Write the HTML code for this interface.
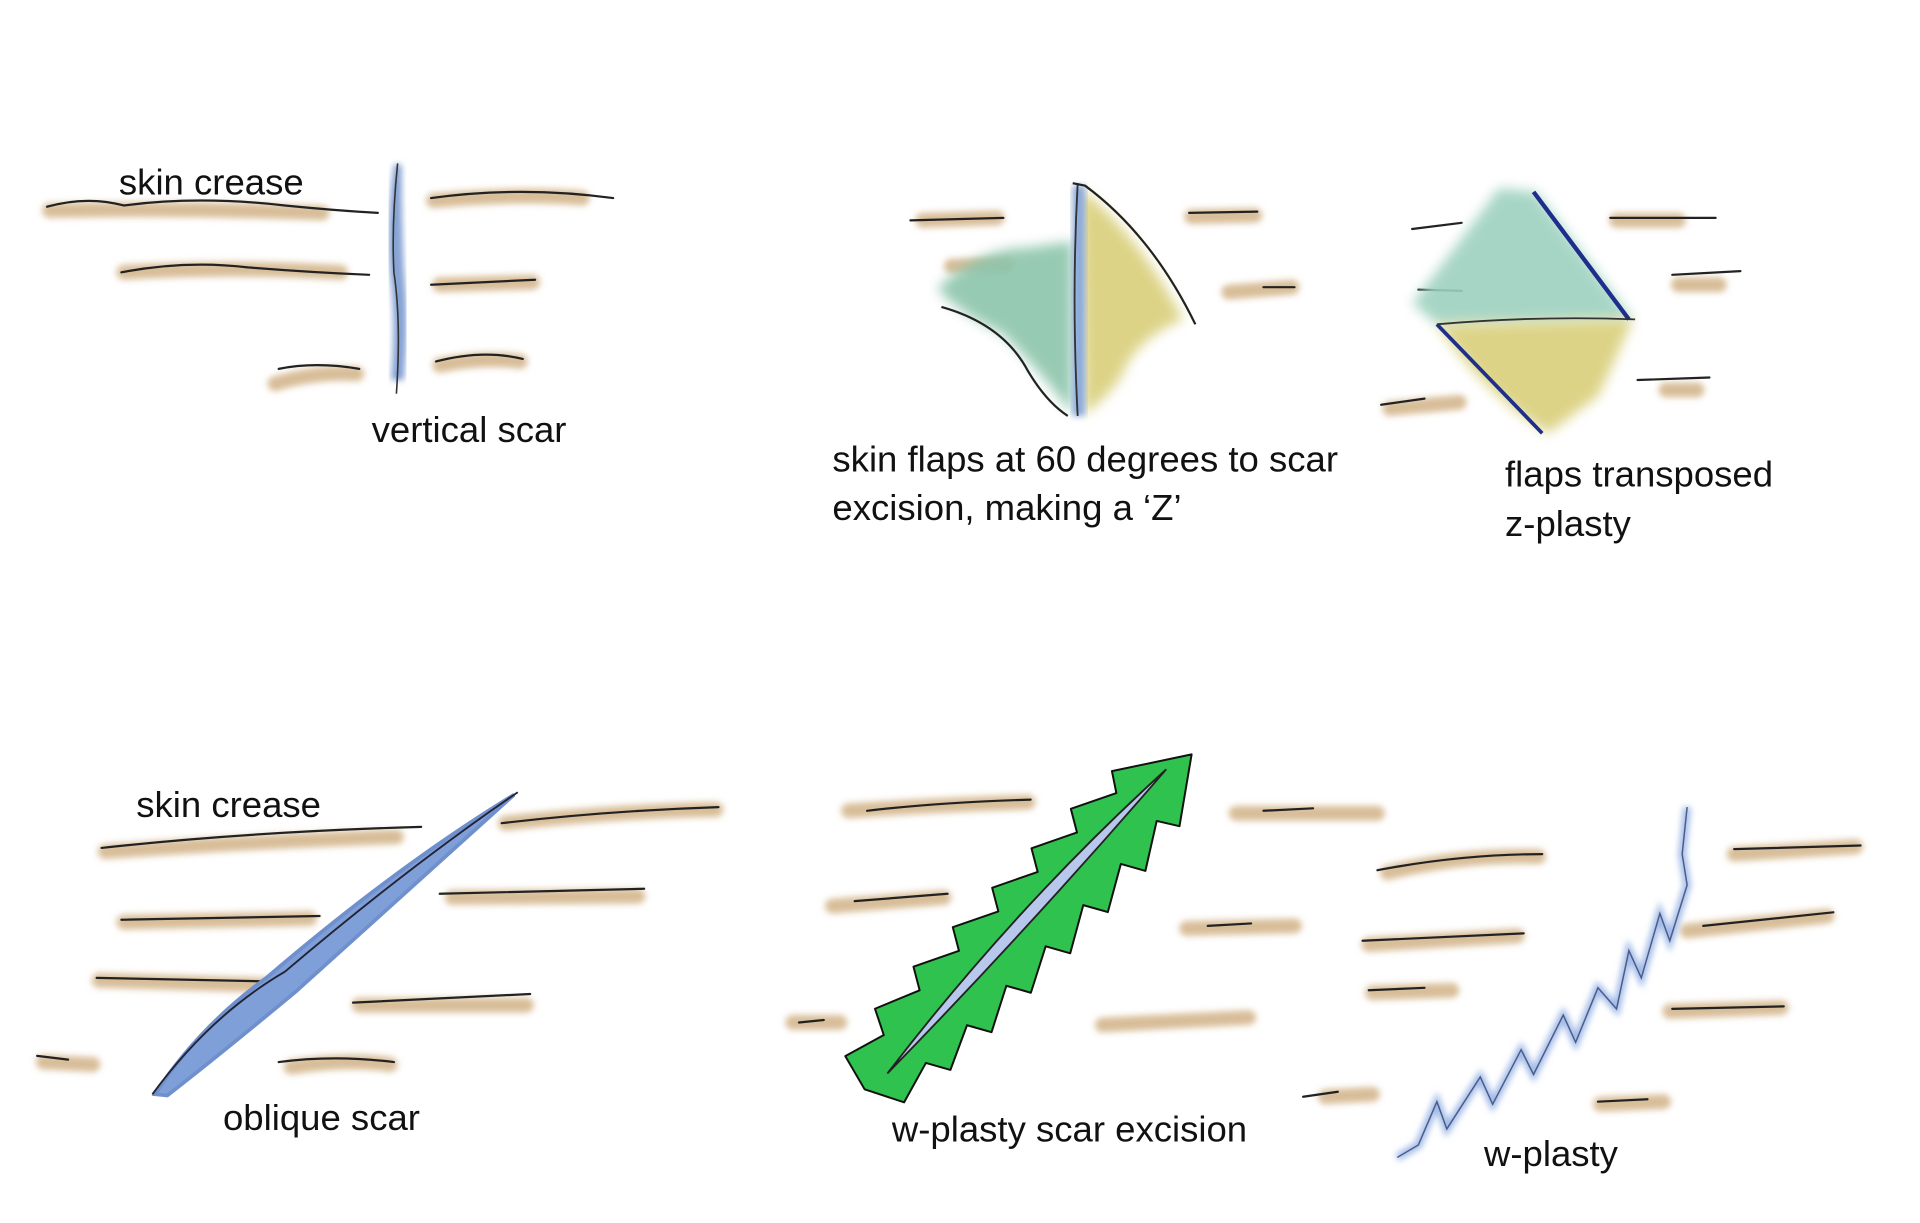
<!DOCTYPE html>
<html><head><meta charset="utf-8"><style>
html,body{margin:0;padding:0;background:#fff;}
svg{display:block;}
text{font-family:"Liberation Sans",sans-serif;font-size:29.5px;fill:#111;}
</style></head><body>
<svg width="1920" height="1223" viewBox="0 0 1550 988" preserveAspectRatio="none" xmlns="http://www.w3.org/2000/svg">
<defs>
<filter id="b" x="-20%" y="-50%" width="140%" height="200%"><feGaussianBlur stdDeviation="2.5"/></filter>
<filter id="b2" x="-20%" y="-20%" width="140%" height="140%"><feGaussianBlur stdDeviation="5"/></filter>
</defs>
<rect width="1550" height="988" fill="#fff"/>
<g stroke="#d8bd98" stroke-width="12" stroke-linecap="round" fill="none" filter="url(#b)">
<path d="M40 170 Q150 168 260 172"/><path d="M350 162 Q420 156 470 160"/><path d="M100 220 Q190 215 275 220"/>
<path d="M355 230 L430 228"/><path d="M222 310 Q255 300 288 302"/><path d="M355 295 Q390 288 420 292"/>
<path d="M745 178 L805 176"/><path d="M962 175 L1013 174"/><path d="M992 236 L1043 232"/><path d="M768 215 L812 214"/>
<path d="M1305 178 L1355 178"/><path d="M1355 230 L1388 230"/><path d="M1345 315 L1370 315"/><path d="M1122 330 L1178 325"/>
<path d="M85 688 Q200 680 320 676"/><path d="M408 665 Q500 655 578 654"/><path d="M100 745 L250 742"/><path d="M365 725 L515 724"/>
<path d="M80 792 L220 796"/><path d="M290 812 L425 812"/><path d="M35 858 L75 860"/><path d="M235 862 Q280 855 315 860"/>
<path d="M685 655 Q760 650 830 648"/><path d="M998 657 L1112 657"/><path d="M672 732 L762 725"/><path d="M958 750 L1045 748"/>
<path d="M640 826 L678 826"/><path d="M890 828 L1008 822"/><path d="M1070 886 L1108 884"/>
<path d="M1120 705 Q1180 690 1242 692"/><path d="M1400 690 L1498 684"/><path d="M1105 763 L1225 756"/><path d="M1362 752 L1475 740"/>
<path d="M1108 802 L1172 800"/><path d="M1348 817 L1438 814"/><path d="M1292 892 L1343 890"/>
</g>
<g stroke="#222" stroke-width="1.8" fill="none" stroke-linecap="round">
<path d="M38 167 Q70 158 100 166 Q160 158 230 166 Q270 170 305 172"/><path d="M348 160 Q420 150 495 160"/>
<path d="M98 220 Q150 210 200 216 Q250 220 298 222"/><path d="M348 230 L432 226"/><path d="M225 298 Q255 292 290 298"/><path d="M352 292 Q390 282 422 290"/>
<path d="M735 178 L810 176"/><path d="M960 172 L1015 171"/><path d="M1020 232 L1045 232"/>
<path d="M1140 185 L1180 180"/><path d="M1300 176 L1385 176"/><path d="M1350 222 L1405 219"/><path d="M1145 234 L1180 235"/><path d="M1322 307 L1380 305"/><path d="M1115 327 L1150 322"/>
<path d="M82 685 Q200 672 340 668"/><path d="M405 665 Q490 655 580 652"/><path d="M98 743 L258 740"/><path d="M355 722 L520 718"/>
<path d="M78 790 L225 793"/><path d="M285 810 L428 803"/><path d="M30 853 L55 856"/><path d="M225 858 Q270 852 318 858"/>
<path d="M700 655 Q760 648 832 646"/><path d="M1020 655 L1060 653"/><path d="M690 728 L765 722"/><path d="M975 748 L1010 746"/>
<path d="M645 826 L665 824"/><path d="M1052 886 L1080 882"/>
<path d="M1112 703 Q1180 690 1245 690"/><path d="M1400 686 L1502 683"/><path d="M1100 760 L1230 754"/><path d="M1375 748 L1480 737"/>
<path d="M1105 800 L1150 798"/><path d="M1350 815 L1440 813"/><path d="M1290 890 L1330 888"/>
</g>
<path d="M320 135 Q314 180 317 220 Q322 260 318 305 L324 305 Q328 260 324 220 Q322 180 322 135 Z" fill="#8fabd8" stroke="#7d9bd0" stroke-width="4" filter="url(#b)"/>
<path d="M321 132 Q316 180 318 220 Q324 260 320 318" stroke="#333" stroke-width="1.3" fill="none"/>
<text x="96" y="157">skin crease</text>
<text x="300" y="357">vertical scar</text>
<path d="M757 233 Q790 200 830 200 L866 195 L866 335 Q840 300 810 270 Q770 250 757 233Z" fill="#8cc5ab" filter="url(#b2)" opacity="0.9"/>
<path d="M872 152 Q920 190 955 258 Q915 275 905 305 Q890 325 875 335 Z" fill="#d9cf7a" filter="url(#b2)" opacity="0.9"/>
<path d="M866 150 L866 336 L876 336 L876 150 Z" fill="#8aa9dc" filter="url(#b)"/>
<path d="M870 148 Q865 240 870 336" stroke="#333" stroke-width="1.5" fill="none"/>
<path d="M866 148 L876 150 Q930 190 965 262" stroke="#222" stroke-width="1.8" fill="none"/>
<path d="M760 248 Q810 262 830 300 Q845 325 862 336" stroke="#222" stroke-width="1.8" fill="none"/>
<text x="672" y="381">skin flaps at 60 degrees to scar</text>
<text x="672" y="420">excision, making a ‘Z’</text>
<path d="M1140 245 Q1175 200 1210 152 L1240 155 L1318 258 L1160 262 Z" fill="#9ed1bf" filter="url(#b2)" opacity="0.9"/>
<path d="M1160 262 L1318 258 Q1300 300 1290 320 L1250 350 Q1200 320 1160 262Z" fill="#d9cf7a" filter="url(#b2)" opacity="0.9"/>
<path d="M1238 155 L1315 258" stroke="#1d2f8a" stroke-width="3.5"/>
<path d="M1160 262 L1245 350" stroke="#1d2f8a" stroke-width="3"/>
<path d="M1160 262 Q1240 255 1320 258" stroke="#333" stroke-width="1.5" fill="none"/>
<text x="1215" y="393">flaps transposed</text>
<text x="1215" y="433">z-plasty</text>
<path d="M125 884 Q160 830 215 790 Q320 700 415 642 Q340 710 240 800 Q180 850 135 885 Z" fill="#7f9fd8" stroke="#6f8fcd" stroke-width="3"/>
<path d="M123 884 Q170 820 230 785 Q330 700 418 640" stroke="#223" stroke-width="1.5" fill="none"/>
<text x="110" y="660">skin crease</text>
<text x="180" y="913">oblique scar</text>
<g transform="translate(698,880) rotate(-45.1)">
<path d="M0 0 L8 -30 L42 -20 L52 -40 L88 -25 L98 -42 L133 -25 L143 -42 L178 -25 L188 -42 L223 -25 L233 -42 L268 -25 L278 -42 L313 -25 L323 -40 L378 -4 L330 30 L320 14 L285 36 L275 18 L240 38 L230 20 L195 40 L185 22 L150 40 L140 22 L105 40 L95 22 L60 38 L50 20 L15 30 Z" fill="#2fc24e" stroke="#111" stroke-width="1.6" stroke-linejoin="round"/>
<path d="M22 4 Q190 -18 355 -10 Q190 2 22 4Z" fill="#b8c8ec" stroke="#222" stroke-width="1.5"/>
</g>
<text x="720" y="922">w-plasty scar excision</text>
<polyline points="1128,935 1145,925 1160,890 1168,912 1195,870 1205,892 1228,848 1238,868 1262,820 1272,842 1290,798 1305,815 1315,768 1325,790 1340,738 1348,760 1362,715 1358,690 1362,652" fill="none" stroke="#9db7e6" stroke-width="6" filter="url(#b)"/>
<polyline points="1128,935 1145,925 1160,890 1168,912 1195,870 1205,892 1228,848 1238,868 1262,820 1272,842 1290,798 1305,815 1315,768 1325,790 1340,738 1348,760 1362,715 1358,690 1362,652" fill="none" stroke="#4a5c8a" stroke-width="1.2"/>
<text x="1198" y="942">w-plasty</text>
</svg>
</body></html>
